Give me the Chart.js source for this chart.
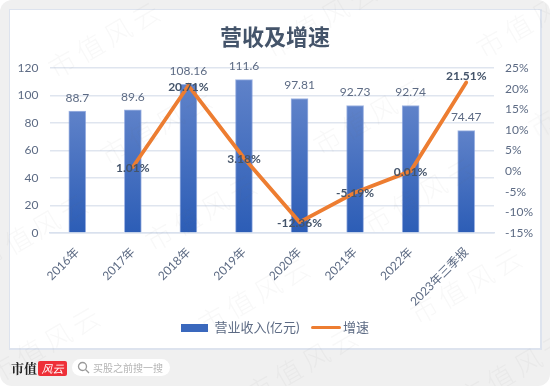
<!DOCTYPE html>
<html lang="zh-CN">

<head>
    <meta charset="UTF-8">
    <title>营收及增速</title>
    <script src="https://cdn.jsdelivr.net/npm/chart.js@4"></script>
    <style>
        html, body { margin: 0; padding: 0; background: #fff; }
        #card { position: relative; width: 550px; height: 386px; background: #f0f0f0; border-radius: 12px; overflow: hidden; font-family: "Noto Sans CJK SC", sans-serif; }
        #panel { position: absolute; left: 9px; top: 9px; width: 530px; height: 338px; background: #fff; border: 1px solid #dde3ee; border-right-width: 2px; border-bottom-width: 2px; }
        #myChart { position: absolute; left: 0; top: 0; }
        .mark { position: absolute; font-size: 27px; font-weight: 300; letter-spacing: 5px; color: rgba(110, 110, 110, 0.05); transform-origin: 0 50%; transform: rotate(-30deg); white-space: nowrap; pointer-events: none; }
        #brand { position: absolute; left: 11px; top: 358px; font: 700 13px "Noto Serif CJK SC", "Noto Sans CJK SC", serif; color: #222; letter-spacing: 0; }
        #brand-red { position: absolute; left: 38px; top: 361px; width: 29px; height: 15px; background: #ee3038; border-radius: 2px; color: #fff; font: italic 11px/15px "Noto Sans CJK SC", sans-serif; text-align: center; }
        #search { position: absolute; left: 72px; top: 359px; width: 98px; height: 17px; background: #fff; border-radius: 9px; }
        #search svg { position: absolute; left: 5px; top: 2px; }
        #search span { position: absolute; left: 21px; top: 0; font-size: 10px; line-height: 17px; color: #b5b5b5; white-space: nowrap; }
    </style>
</head>

<body>
    <div id="card">
        <div id="panel"></div>
        <canvas id="myChart" width="550" height="386"></canvas>
        <div id="brand">市值</div>
        <div id="brand-red">风云</div>
        <div id="search">
            <svg width="13" height="13" viewBox="0 0 13 13"><circle cx="5.5" cy="5.5" r="4" fill="none" stroke="#999" stroke-width="1.3"/><line x1="8.5" y1="8.5" x2="12" y2="12" stroke="#999" stroke-width="1.3"/></svg>
            <span>买股之前搜一搜</span>
        </div>
    </div>
    <script>
        const categories = ['2016年', '2017年', '2018年', '2019年', '2020年', '2021年', '2022年', '2023年三季报'];
        const revenue = [88.7, 89.6, 108.16, 111.6, 97.81, 92.73, 92.74, 74.47];
        const growth = [null, 1.01, 20.71, 3.18, -12.36, -5.19, 0.01, 21.51];
        const revenueTicks = [0, 20, 40, 60, 80, 100, 120];
        const growthTicks = [-15, -10, -5, 0, 5, 10, 15, 20, 25];

        const textColor = '#5d6b84';
        const latin = 'Lato, "Noto Sans CJK SC", sans-serif';

        // 水印
        const card = document.getElementById('card');
        [[50, 70], [267, 50], [478, 50], [102, 157], [315, 147], [530, 130], [-22, 262], [147, 243], [365, 226],
         [200, 326], [412, 316], [-10, 375], [248, 395], [460, 400]].forEach(function (p) {
            const el = document.createElement('div');
            el.className = 'mark';
            el.textContent = '市值风云';
            el.style.left = p[0] + 'px';
            el.style.top = (p[1] - 20) + 'px';
            card.appendChild(el);
        });

        function barGradient(context) {
            const chart = context.chart;
            if (context.parsed === undefined || !chart.chartArea) return '#3f6cbf';
            const y = chart.scales.y;
            const g = chart.ctx.createLinearGradient(0, y.getPixelForValue(context.parsed.y), 0, y.getPixelForValue(0));
            g.addColorStop(0, '#5f82c9');
            g.addColorStop(1, '#2c5db6');
            return g;
        }

        // 图例的小色块，shift 把色块往右挪
        function swatch(w, h, color, round, shift) {
            const s = shift || 0;
            const c = document.createElement('canvas');
            c.width = w + s * 2;
            c.height = h;
            const x = c.getContext('2d');
            x.fillStyle = color;
            if (round) {
                x.beginPath();
                x.roundRect(s * 2, 0, w, h, h / 2);
                x.fill();
            } else {
                x.fillRect(s * 2, 0, w, h);
            }
            return c;
        }

        // 数据标签
        const valueLabels = {
            id: 'valueLabels',
            afterDatasetsDraw(chart) {
                const ctx = chart.ctx;
                ctx.save();
                ctx.textAlign = 'center';
                ctx.textBaseline = 'middle';
                chart.getDatasetMeta(0).data.forEach(function (bar, i) {
                    ctx.font = '12px ' + latin;
                    ctx.fillStyle = textColor;
                    ctx.fillText(String(revenue[i]), bar.x, bar.y - 13);
                });
                chart.getDatasetMeta(1).data.forEach(function (pt, i) {
                    if (growth[i] === null) return;
                    ctx.font = '700 12px ' + latin;
                    ctx.fillStyle = '#44546a';
                    const off = i === growth.length - 1 ? -6 : 1;
                    ctx.fillText(growth[i].toFixed(2) + '%', pt.x, pt.y + off);
                });
                ctx.restore();
            }
        };

        new Chart(document.getElementById('myChart'), {
            data: {
                labels: categories,
                datasets: [{
                    type: 'bar',
                    label: '营业收入(亿元)',
                    data: revenue,
                    yAxisID: 'y',
                    order: 2,
                    barThickness: 17,
                    backgroundColor: barGradient,
                    borderColor: 'rgba(120,150,215,0.7)',
                    borderWidth: 1
                }, {
                    type: 'line',
                    label: '增速',
                    data: growth,
                    yAxisID: 'y1',
                    order: 1,
                    borderColor: '#ed7d31',
                    borderWidth: 3.8,
                    borderCapStyle: 'round',
                    pointRadius: 0,
                    tension: 0
                }]
            },
            plugins: [valueLabels],
            options: {
                responsive: false,
                animation: false,
                layout: { padding: { top: 17, bottom: 42 } },
                plugins: {
                    title: {
                        display: true,
                        text: '营收及增速',
                        color: '#44546a',
                        font: { family: '"Noto Sans CJK SC"', size: 22, weight: 'bold' },
                        padding: { top: 6, bottom: 18.6 }
                    },
                    legend: {
                        position: 'bottom',
                        labels: {
                            color: textColor,
                            font: { family: latin, size: 13 },
                            usePointStyle: true,
                            pointStyleWidth: 27,
                            boxHeight: 10,
                            padding: 10,
                            generateLabels() {
                                return [
                                    { text: '营业收入(亿元)', pointStyle: swatch(27, 8, '#3a68bd'), datasetIndex: 0, fontColor: textColor, lineWidth: 0 },
                                    { text: '增速', pointStyle: swatch(30, 3, '#ed7d31', true, 3), datasetIndex: 1, fontColor: textColor, lineWidth: 0 }
                                ];
                            }
                        }
                    },
                    tooltip: { enabled: false }
                },
                scales: {
                    x: {
                        grid: { display: false },
                        border: { color: '#d9e1ee', width: 1.5 },
                        ticks: { color: textColor, font: { family: latin, size: 12 }, minRotation: 45, maxRotation: 45, autoSkip: false, padding: 4 },
                        afterFit(s) { s.height = 78; }
                    },
                    y: {
                        position: 'left',
                        min: revenueTicks[0],
                        max: revenueTicks[revenueTicks.length - 1],
                        afterBuildTicks(s) { s.ticks = revenueTicks.map(function (v) { return { value: v }; }); },
                        grid: { color: '#dfe5ef', lineWidth: 1.5, drawTicks: false },
                        border: { display: false },
                        ticks: { color: textColor, font: { family: latin, size: 12 }, padding: 11 },
                        afterFit(s) { s.width = 49.5; }
                    },
                    y1: {
                        position: 'right',
                        min: growthTicks[0],
                        max: growthTicks[growthTicks.length - 1],
                        afterBuildTicks(s) { s.ticks = growthTicks.map(function (v) { return { value: v }; }); },
                        grid: { display: false, drawTicks: false },
                        border: { display: false },
                        ticks: { color: textColor, font: { family: latin, size: 12 }, padding: 11, callback: function (v) { return v + '%'; } },
                        afterFit(s) { s.width = 56; }
                    }
                }
            }
        });
    </script>
</body>

</html>
